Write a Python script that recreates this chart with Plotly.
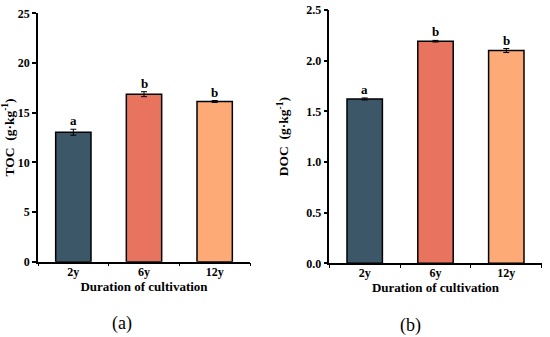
import plotly.graph_objects as go

categories = ["2y", "6y", "12y"]
toc_values = [13.03, 16.86, 16.12]
toc_errors = [0.30, 0.25, 0.10]
toc_letters = ["a", "b", "b"]
doc_values = [1.622, 2.192, 2.100]
doc_errors = [0.010, 0.008, 0.020]
doc_letters = ["a", "b", "b"]
bar_colors = ["#3C5768", "#E8745F", "#FDAA77"]

FONT = "Liberation Serif"

fig = go.Figure()

fig.add_trace(go.Bar(
    x=categories, y=toc_values, xaxis="x", yaxis="y", width=0.5,
    marker=dict(color=bar_colors, line=dict(color="black", width=1.5)),
    error_y=dict(type="data", array=toc_errors, color="black", thickness=1, width=3),
    showlegend=False))
fig.add_trace(go.Bar(
    x=categories, y=doc_values, xaxis="x2", yaxis="y2", width=0.5,
    marker=dict(color=bar_colors, line=dict(color="black", width=1.5)),
    error_y=dict(type="data", array=doc_errors, color="black", thickness=1, width=3),
    showlegend=False))

annotations = []
for c, v, e, l in zip(categories, toc_values, toc_errors, toc_letters):
    annotations.append(dict(x=c, y=v + e, xref="x", yref="y", text=f"<b>{l}</b>",
                            showarrow=False, yanchor="bottom", yshift=-1,
                            font=dict(family=FONT, size=13, color="black")))
for c, v, e, l in zip(categories, doc_values, doc_errors, doc_letters):
    annotations.append(dict(x=c, y=v + e, xref="x2", yref="y2", text=f"<b>{l}</b>",
                            showarrow=False, yanchor="bottom", yshift=-1,
                            font=dict(family=FONT, size=13, color="black")))
annotations.append(dict(x=122 / 550, y=1 - 323 / 337, xref="paper", yref="paper",
                        text="(a)", showarrow=False, xanchor="center", yanchor="middle",
                        font=dict(family=FONT, size=18, color="black")))
annotations.append(dict(x=410 / 550, y=1 - 325 / 337, xref="paper", yref="paper",
                        text="(b)", showarrow=False, xanchor="center", yanchor="middle",
                        font=dict(family=FONT, size=18, color="black")))

xcommon = dict(type="category", range=[-0.5, 2.5], showline=True, linecolor="black",
               linewidth=1.5, ticks="outside", tickson="boundaries", ticklen=3,
               tickwidth=1, tickcolor="black", showgrid=False, zeroline=False,
               ticklabelstandoff=-2, automargin=False,
               tickfont=dict(family=FONT, size=12, color="black"))
ycommon = dict(showline=True, linecolor="black", linewidth=1.5, ticks="outside",
               ticklen=4, tickwidth=1.5, tickcolor="black", showgrid=False, zeroline=False,
               automargin=False,
               tickfont=dict(family=FONT, size=12, color="black"))

fig.update_layout(
    width=550, height=337, margin=dict(l=0, r=0, t=0, b=0),
    paper_bgcolor="white", plot_bgcolor="white",
    font=dict(family=FONT, color="black"),
    xaxis=dict(domain=[38 / 550, 250 / 550], anchor="y",
               title=dict(text="<b>Duration of cultivation</b>", standoff=3,
                          font=dict(family=FONT, size=13, color="black")), **xcommon),
    yaxis=dict(domain=[1 - 261.7 / 337, 1 - 13.3 / 337], anchor="x", range=[0, 25],
               tickvals=[0, 5, 10, 15, 20, 25], ticktext=["<b>0</b>", "<b>5</b>", "<b>10</b>", "<b>15</b>", "<b>20</b>", "<b>25</b>"],
               title=dict(text="<b>TOC  (g·kg<sup>-1</sup>)</b>", standoff=18,
                          font=dict(family=FONT, size=13.5, color="black")), **ycommon),
    xaxis2=dict(domain=[329.3 / 550, 541.7 / 550], anchor="y2",
                title=dict(text="<b>Duration of cultivation</b>", standoff=3,
                           font=dict(family=FONT, size=13, color="black")), **xcommon),
    yaxis2=dict(domain=[1 - 263.3 / 337, 1 - 10 / 337], anchor="x2", range=[0, 2.5],
                tickvals=[0, 0.5, 1.0, 1.5, 2.0, 2.5],
                ticktext=["<b>0.0</b>", "<b>0.5</b>", "<b>1.0</b>", "<b>1.5</b>", "<b>2.0</b>", "<b>2.5</b>"],
                title=dict(text="<b>DOC  (g·kg<sup>-1</sup>)</b>", standoff=14,
                           font=dict(family=FONT, size=13.5, color="black")), **ycommon),
    annotations=annotations,
)
fig.update_xaxes(ticktext=["<b>2y</b>", "<b>6y</b>", "<b>12y</b>"], tickvals=categories)

fig.write_html("out.html", config={"displayModeBar": False},
               post_script="document.body.style.margin='0px';")
